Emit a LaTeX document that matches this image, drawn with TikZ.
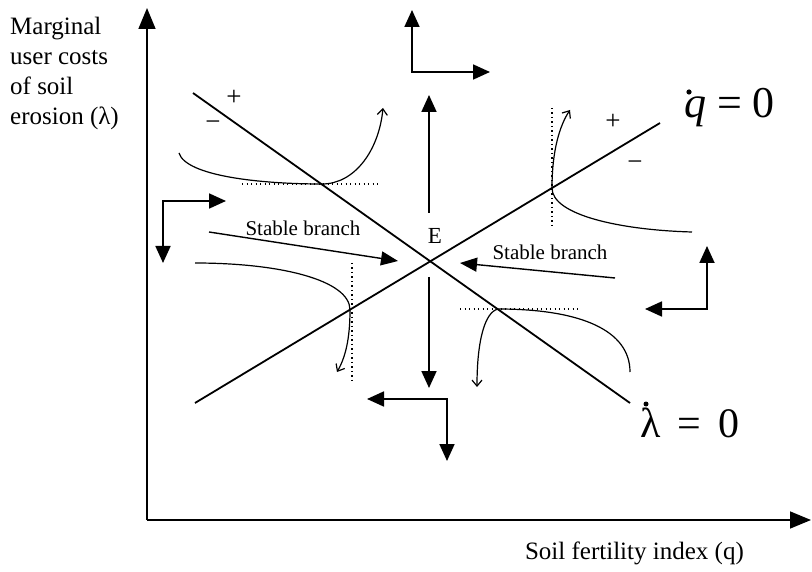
\documentclass[tikz,border=0pt]{standalone}
\usepackage{fontspec}
\setmainfont{Liberation Serif}
\usetikzlibrary{arrows.meta}
\begin{document}
\begin{tikzpicture}[x=1pt,y=-1pt,
  axisline/.style={line width=1.6pt,-{Triangle[length=21pt,width=17pt]}},
  flow/.style={line width=1.8pt,-{Triangle[length=17pt,width=15pt]}},
  lgroup/.style={line width=1.8pt,miter limit=10,{Triangle[length=17pt,width=15pt]}-{Triangle[length=17pt,width=15pt]}},
  branch/.style={line width=1.4pt,-{Triangle[length=17pt,width=14pt]}},
  locus/.style={line width=1.8pt},
  traj/.style={line width=1.2pt,-{Straight Barb[length=6pt,width=10pt]}},
  guide/.style={line width=1.1pt,dash pattern=on 1.3pt off 3.2pt},
  lbl/.style={inner sep=0pt},
  axisfont/.style={font=\fontsize{25}{30}\selectfont},
  smallfont/.style={font=\fontsize{21}{25}\selectfont},
  signfont/.style={font=\fontsize{27}{30}\selectfont},
  bigfont/.style={font=\fontsize{44}{50}\selectfont},
]
\useasboundingbox (0,0) rectangle (812,572);

% axes
\coordinate (O) at (147,520);
\coordinate (Ytop) at (147,8);
\coordinate (Xend) at (811,520);
\draw[axisline] (O) -- (Ytop);
\draw[axisline] (O) -- (Xend);

\node[lbl,axisfont,align=left,anchor=north west] (ylab) at (10,17)
  {Marginal\\user costs\\of soil\\erosion (λ)};
\node[lbl,axisfont,anchor=base east] (xlab) at (744,559) {Soil fertility index (q)};

% loci
\coordinate (L1) at (193,93);
\coordinate (L2) at (630,403);
\coordinate (Q1) at (195,403);
\coordinate (Q2) at (660,123);
\draw[locus] (L1) -- (L2);
\draw[locus] (Q1) -- (Q2);

% equilibrium
\node[lbl,font=\fontsize{23}{27}\selectfont] (Elab) at (435,236) {E};
\coordinate (Eu0) at (429,213);
\coordinate (Eu1) at (429,95);
\coordinate (Ed0) at (429,277);
\coordinate (Ed1) at (429,388);
\draw[flow] (Eu0) -- (Eu1);
\draw[flow] (Ed0) -- (Ed1);

% stable branches
\coordinate (S1a) at (209,232);
\coordinate (S1b) at (398,261);
\coordinate (S2a) at (615,278);
\coordinate (S2b) at (460,263);
\draw[branch] (S1a) -- (S1b);
\draw[branch] (S2a) -- (S2b);
\node[lbl,smallfont] (sb1) at (303,228) {Stable branch};
\node[lbl,smallfont] (sb2) at (550,252) {Stable branch};

% L-shaped direction arrows
\coordinate (G1c) at (412,72);  \coordinate (G1a) at (412,10);  \coordinate (G1b) at (490,72);
\coordinate (G2c) at (163,201); \coordinate (G2a) at (226,201); \coordinate (G2b) at (163,263);
\coordinate (G3c) at (447,399); \coordinate (G3a) at (367,399); \coordinate (G3b) at (447,461);
\coordinate (G4c) at (707,309); \coordinate (G4a) at (645,309); \coordinate (G4b) at (707,246);
\draw[lgroup] (G1a) -- (G1c) -- (G1b);
\draw[lgroup] (G2a) -- (G2c) -- (G2b);
\draw[lgroup] (G3a) -- (G3c) -- (G3b);
\draw[lgroup] (G4a) -- (G4c) -- (G4b);

% dotted guides
\draw[guide] (242,184) -- (380,184);
\draw[guide] (552,108) -- (552,228);
\draw[guide] (352,263) -- (352,383);
\draw[guide] (460,309) -- (580,309);

% trajectories
\draw[traj] (179,153) .. controls (186,176) and (260,184) .. (322,184)
            .. controls (355,184) and (379,150) .. (383,108);
\draw[traj] (692,232) .. controls (620,230) and (552,215) .. (552,188)
            .. controls (552,150) and (560,125) .. (570,110);
\draw[traj] (195,263) .. controls (280,263) and (350,280) .. (350,310)
            .. controls (350,340) and (345,358) .. (337,372);
\draw[traj] (630,372) .. controls (630,330) and (580,309) .. (498,309)
            .. controls (485,312) and (477,340) .. (477,387);

% signs
\node[lbl,signfont] (p1) at (234,98) {+};
\node[lbl,signfont] (m1) at (213,126) {−};
\node[lbl,signfont] (p2) at (613,122) {+};
\node[lbl,signfont] (m2) at (635,166) {−};

% locus labels
\node[lbl,bigfont,anchor=base west] (qlab) at (684,118) {\textit{q} = 0};
\fill (689,92) circle (2.6);
\node[lbl,font=\fontsize{42}{48}\selectfont,anchor=base west] (llab) at (640,437)
  {λ\hspace{17pt}=\hspace{17pt}0};
\fill (646,404) circle (2.5);
\end{tikzpicture}
\end{document}
